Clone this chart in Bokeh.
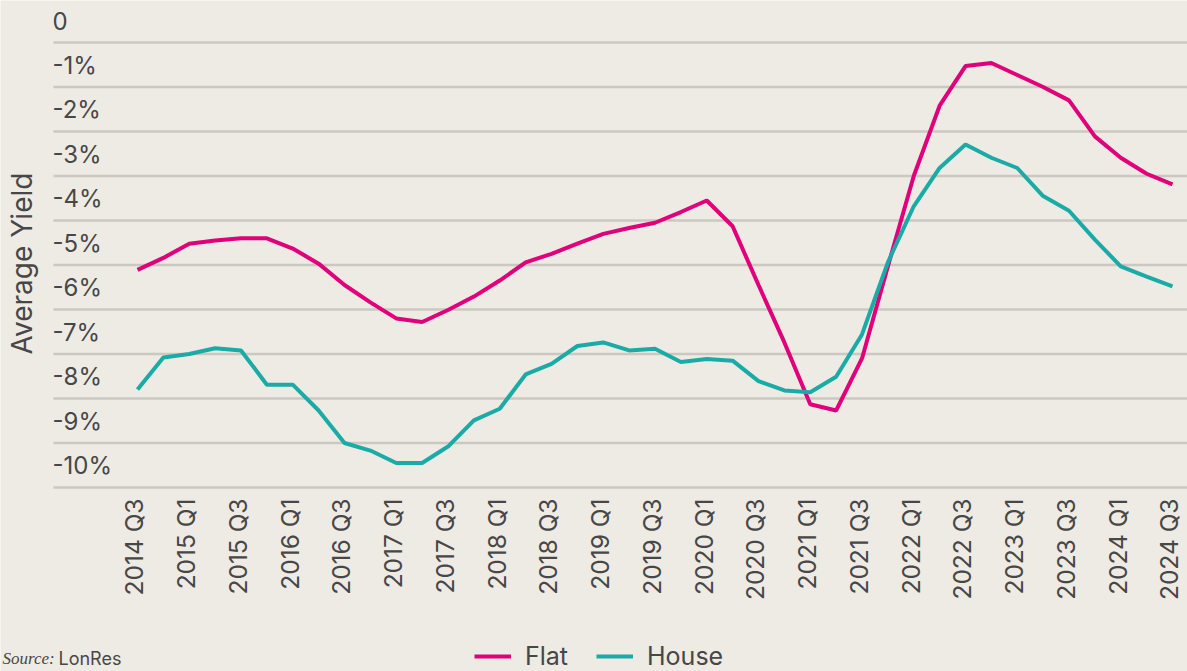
import math
from bokeh.plotting import figure
from bokeh.models import (Range1d, Label, Legend, LegendItem, ColumnDataSource)
from bokeh.core.properties import value
from bokeh.embed import file_html
from bokeh.resources import INLINE

quarters = [
    "2014 Q3", "2014 Q4",
    "2015 Q1", "2015 Q2", "2015 Q3", "2015 Q4",
    "2016 Q1", "2016 Q2", "2016 Q3", "2016 Q4",
    "2017 Q1", "2017 Q2", "2017 Q3", "2017 Q4",
    "2018 Q1", "2018 Q2", "2018 Q3", "2018 Q4",
    "2019 Q1", "2019 Q2", "2019 Q3", "2019 Q4",
    "2020 Q1", "2020 Q2", "2020 Q3", "2020 Q4",
    "2021 Q1", "2021 Q2", "2021 Q3", "2021 Q4",
    "2022 Q1", "2022 Q2", "2022 Q3", "2022 Q4",
    "2023 Q1", "2023 Q2", "2023 Q3", "2023 Q4",
    "2024 Q1", "2024 Q2", "2024 Q3",
]

flat = [
    -5.11, -4.84, -4.52, -4.45, -4.40, -4.40, -4.63, -4.97, -5.45, -5.84,
    -6.20, -6.28, -6.01, -5.71, -5.35, -4.94, -4.75, -4.52, -4.30, -4.17,
    -4.05, -3.81, -3.55, -4.13, -5.45, -6.74, -8.13, -8.27, -7.10, -5.03,
    -3.00, -1.42, -0.53, -0.46, -0.73, -1.00, -1.30, -2.11, -2.59, -2.95,
    -3.19,
]

house = [
    -7.80, -7.08, -7.00, -6.87, -6.92, -7.69, -7.69, -8.27, -9.00, -9.17,
    -9.45, -9.45, -9.08, -8.49, -8.23, -7.46, -7.22, -6.82, -6.74, -6.92,
    -6.88, -7.18, -7.11, -7.15, -7.61, -7.82, -7.86, -7.51, -6.56, -4.94,
    -3.68, -2.82, -2.29, -2.59, -2.82, -3.45, -3.78, -4.43, -5.03, -5.26,
    -5.48,
]

y_ticks = [0, -1, -2, -3, -4, -5, -6, -7, -8, -9, -10]
y_tick_labels = ["0", "-1%", "-2%", "-3%", "-4%", "-5%", "-6%", "-7%", "-8%", "-9%", "-10%"]

BG = "#EEEBE5"
GRID = "#CAC8C0"
TEXT = "#474747"
FLAT_C = "#E0007A"
HOUSE_C = "#1BABA6"
FONT = "Inter"

W, H = 1187, 671
PX_X = 25.875   # pixels per quarter
PX_Y = 44.5     # pixels per percentage point
X0_PX, Y0_PX = 137, 42   # pixel of first quarter / of the 0 line

x_start = -X0_PX / PX_X
x_end = x_start + W / PX_X
y_end = Y0_PX / PX_Y
y_start = y_end - H / PX_Y

def xpx(px):
    return x_start + px / PX_X

def ypx(py):
    return y_end - py / PX_Y

idx = list(range(len(quarters)))

p = figure(width=W, height=H, output_backend="svg", toolbar_location=None,
           x_range=Range1d(x_start, x_end), y_range=Range1d(y_start, y_end),
           min_border=0)
p.background_fill_color = BG
p.border_fill_color = BG
p.outline_line_color = None
p.xaxis.visible = False
p.yaxis.visible = False
p.xgrid.visible = False
p.ygrid.visible = False

# horizontal gridlines (start at the plot's left edge, like the reference)
p.segment(x0=[xpx(53)] * len(y_ticks), x1=[x_end] * len(y_ticks), y0=y_ticks, y1=y_ticks,
          line_color=GRID, line_width=2.5)

# y tick labels above each gridline
ysrc = ColumnDataSource(dict(x=[xpx(52)] * len(y_ticks),
                             y=[v + 0.49 for v in y_ticks],
                             t=y_tick_labels))
p.text(x="x", y="y", text="t", source=ysrc, text_font=value(FONT),
       text_font_size="24px", text_color=TEXT, text_align="left",
       text_baseline="middle")

# x tick labels (every other quarter), rotated
xt = idx[::2]
xsrc = ColumnDataSource(dict(x=[i - 0.12 for i in xt],
                             y=[ypx(498)] * len(xt),
                             t=[quarters[i] for i in xt]))
p.text(x="x", y="y", text="t", source=xsrc, angle=math.pi / 2,
       text_font=value(FONT), text_font_size="24.5px", text_color=TEXT,
       text_align="right", text_baseline="middle")

# series
r_flat = p.line(idx, flat, line_color=FLAT_C, line_width=4)
r_house = p.line(idx, house, line_color=HOUSE_C, line_width=4)

# axis title
p.add_layout(Label(x=xpx(21), y=ypx(263), text="Average Yield", angle=math.pi / 2,
                   text_align="center", text_baseline="middle", text_font=FONT,
                   text_font_size="28px", text_color=TEXT))

legend = Legend(items=[LegendItem(label="Flat", renderers=[r_flat]),
                       LegendItem(label="House", renderers=[r_house])],
                orientation="horizontal", location=(474, 0),
                glyph_width=37, glyph_height=28, label_height=28,
                label_standoff=14, spacing=28,
                padding=0, margin=0, border_line_color=None,
                background_fill_alpha=0, label_text_font=FONT,
                label_text_font_size="25px", label_text_color=TEXT)
p.add_layout(legend, "center")

# source note
p.add_layout(Label(x=xpx(2), y=ypx(658), text="Source:", text_font="Liberation Serif",
                   text_font_style="italic", text_font_size="17px", text_color=TEXT,
                   text_baseline="middle"))
p.add_layout(Label(x=xpx(58), y=ypx(658), text="LonRes", text_font=FONT,
                   text_font_size="18px", text_color=TEXT, text_baseline="middle"))

open("out.html", "w").write(file_html(p, INLINE))
